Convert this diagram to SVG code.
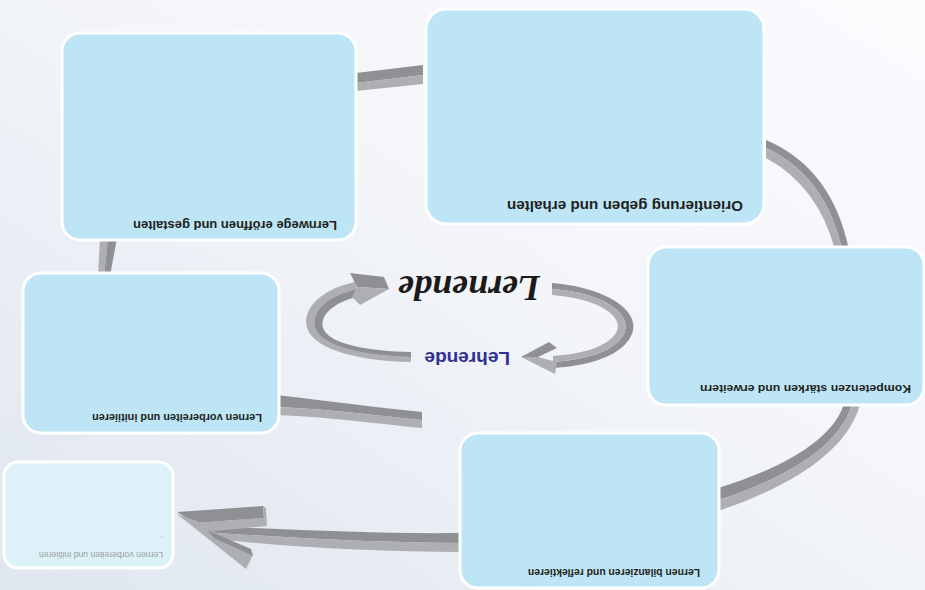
<svg xmlns="http://www.w3.org/2000/svg" width="925" height="590" viewBox="0 0 925 590">
<defs>
<linearGradient id="bg" x1="0" y1="1" x2="1" y2="0">
<stop offset="0" stop-color="#DFE6F0"/>
<stop offset="0.55" stop-color="#F3F5F9"/>
<stop offset="1" stop-color="#FAFBFD"/>
</linearGradient>
<style>
.box{fill:#BDE5F5;stroke:#fff;stroke-width:3}
.faded{fill:#DDF1F8;stroke:#fff;stroke-width:3}
.lbl{font-family:"Liberation Sans",Arial,sans-serif;font-weight:bold;fill:#231F20}
.dk{fill:#8F9094}
.lt{fill:#AEAFB3}
</style>
</defs>
<rect width="925" height="590" fill="url(#bg)"/>
<g id="connectors">
<!-- box1 to box2 strip -->
<polygon class="dk" points="356,73 423,65 423,75 356,83"/>
<polygon class="lt" points="356,83 423,75 423,84 356,91"/>
<!-- box2 to box3 arc -->
<path class="dk" d="M766,140 Q832,168 849,250 L842,250 Q826,176 766,148 Z"/>
<path class="lt" d="M766,148 Q826,176 842,250 L835,250 Q818,186 766,158 Z"/>
<!-- box3 to box5 arc -->
<path class="dk" d="M845,400 C836,440 778,470 718,488 L718,500 C784,479 843,446 853,400 Z"/>
<path class="lt" d="M853,400 C843,446 784,479 718,500 L718,511 C790,487 851,450 861,400 Z"/>
<!-- box5 to faded box big arrow -->
<path class="dk" d="M462,533 C380,534 300,530 205,526 L215,533 C300,538 380,543 462,543 Z"/>
<path class="lt" d="M215,533 C300,538 380,543 462,543 L462,552 C380,552 300,548 225,540 Z"/>
<polygon class="lt" points="195,523 264,518 267,526 215,531"/>
<polygon class="dk" points="177,512 263,506 264,518 195,523"/>
<polygon class="lt" points="263,506 266,508 267,526 264,518"/>
<polygon class="lt" points="177,514 197,521 253,555 246,569"/>
<polygon class="dk" points="207,530 251,549 253,556 214,538"/>
<!-- box4 right strip -->
<path class="dk" d="M276,395 C330,401 380,408 422,412 L422,420 C380,416 330,409 276,407 Z"/>
<path class="lt" d="M276,407 C330,409 380,416 422,420 L422,428 C380,424 330,417 276,415 Z"/>
<!-- box1 to box4 strip -->
<polygon class="lt" points="100,238 108,238 104,276 98,276"/>
<polygon class="dk" points="108,238 117,238 110,276 104,276"/>
<!-- inner left arc -->
<path class="lt" d="M355,282 C318,290 300,312 308,330 C316,350 360,361 411,362 L411,357 C365,356 324,347 316,330 C309,315 324,296 357,289 Z"/>
<path class="dk" d="M357,289 C324,296 309,315 316,330 C324,347 365,356 411,357 L411,352 C370,351 332,345 324,330 C318,318 330,303 360,296 Z"/>
<polygon class="dk" points="350,273 384,277 389,289 357,287"/>
<polygon class="lt" points="357,287 389,289 360,305 352,297"/>
<!-- inner right arc -->
<path class="dk" d="M552,283 C612,288 645,315 630,338 C618,358 585,366 553,368 L553,362 C582,360 612,353 623,336 C635,316 607,293 552,289 Z"/>
<path class="lt" d="M552,289 C607,293 635,316 623,336 C612,353 582,360 553,362 L553,356 C580,354 606,348 616,333 C625,318 602,299 552,295 Z"/>
<polygon class="dk" points="521,357 549,342 557,348 538,357"/>
<polygon class="lt" points="521,357 538,357 557,362 555,374"/>
</g>
<g id="node-lernwege">
<rect class="box" x="62" y="33" width="294" height="207" rx="18"/>
<text class="lbl" x="337" y="221" font-size="12" textLength="204" lengthAdjust="spacingAndGlyphs" transform="rotate(180 337 221)">Lernwege eröffnen und gestalten</text>
</g>
<g id="node-orientierung">
<rect class="box" x="426" y="9" width="338" height="215" rx="20"/>
<text class="lbl" x="743" y="201" font-size="14" textLength="236" lengthAdjust="spacingAndGlyphs" transform="rotate(180 743 201)">Orientierung geben und erhalten</text>
</g>
<g id="node-kompetenzen">
<rect class="box" x="648" y="247" width="276" height="158" rx="18"/>
<text class="lbl" x="911" y="385" font-size="11.5" textLength="211" lengthAdjust="spacingAndGlyphs" transform="rotate(180 911 385)">Kompetenzen stärken und erweitern</text>
</g>
<g id="node-vorbereiten">
<rect class="box" x="23" y="273" width="256" height="160" rx="18"/>
<text class="lbl" x="262" y="414" font-size="10" textLength="170" lengthAdjust="spacingAndGlyphs" transform="rotate(180 262 414)">Lernen vorbereiten und initiieren</text>
</g>
<g id="node-bilanzieren">
<rect class="box" x="460" y="433" width="259" height="155" rx="18"/>
<text class="lbl" x="700" y="569" font-size="10" textLength="172" lengthAdjust="spacingAndGlyphs" transform="rotate(180 700 569)">Lernen bilanzieren und reflektieren</text>
</g>
<g id="node-vorbereiten-faded">
<rect class="faded" x="4" y="462" width="169" height="106" rx="14"/>
<text x="163" y="552" font-family="Liberation Sans, Arial, sans-serif" font-size="8.5" fill="#9A9EA3" textLength="124" lengthAdjust="spacingAndGlyphs" transform="rotate(180 163 552)">Lernen vorbereiten und initiieren</text>
<text x="163" y="536" font-family="Liberation Sans, Arial, sans-serif" font-size="8" fill="#9A9EA3" transform="rotate(180 163 536)">.</text>
</g>
<g id="center">
<text x="540" y="276" font-family="Liberation Serif, Times New Roman, serif" font-weight="bold" font-style="italic" font-size="36" fill="#1A1A1A" transform="rotate(180 540 276)">Lernende</text>
<text x="510" y="352" font-family="Liberation Sans, Arial, sans-serif" font-weight="bold" font-size="19" fill="#2E3192" transform="rotate(180 510 352)">Lehrende</text>
</g>
</svg>
